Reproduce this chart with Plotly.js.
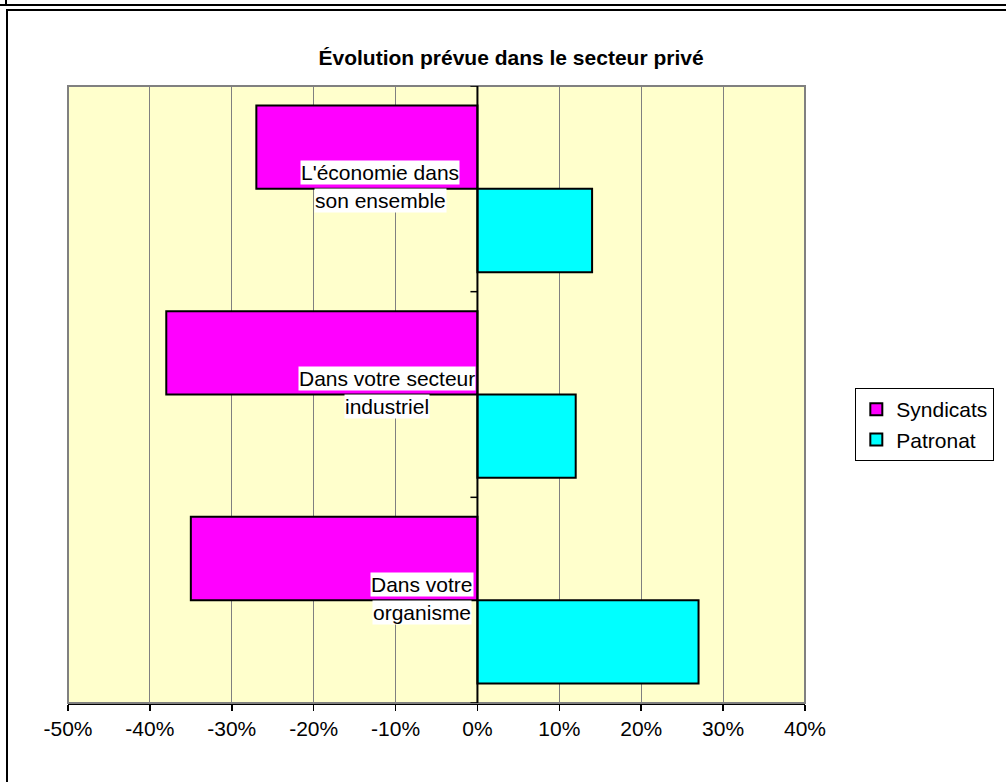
<!DOCTYPE html>
<html>
<head>
<meta charset="utf-8">
<script src="https://cdn.plot.ly/plotly-3.0.1.min.js"></script>
<style>
  html, body { margin: 0; padding: 0; background: #ffffff; }
  #wrap { position: relative; width: 1006px; height: 782px; overflow: hidden; }
  #chart { position: absolute; left: 0; top: 0; width: 1006px; height: 782px; }
  .frame { position: absolute; background: #000; pointer-events: none; }
</style>
</head>
<body>
<div id="wrap">
  <div id="chart"></div>
  <div class="frame" style="left:0; top:4px; width:1006px; height:2px;"></div>
  <div class="frame" style="left:5px; top:0; width:2px; height:5px;"></div>
  <div class="frame" style="left:6px; top:9px; width:1000px; height:2px;"></div>
  <div class="frame" style="left:6px; top:9px; width:2px; height:773px;"></div>
</div>
<script>
// ---- data ----
const categoryLines = [
  ["L'économie dans", "son ensemble"],
  ["Dans votre secteur", "industriel"],
  ["Dans votre", "organisme"]
];
const categories = categoryLines.map(l => l.join(" "));
const syndicats = [-27, -38, -35];
const patronat = [14, 12, 27];
const seriesNames = ["Syndicats", "Patronat"];
const xTicks = [-50, -40, -30, -20, -10, 0, 10, 20, 30, 40];
const xTickLabels = xTicks.map(v => v + "%");
const chartTitle = "Évolution prévue dans le secteur privé";

// ---- style ----
const FONT = "'Liberation Sans', Arial, sans-serif";
const FS = 21;
const labelGap = [18, 2, 5];

const idx = categories.map((_, i) => i);

const traces = [
  {
    type: "bar", orientation: "h", name: seriesNames[0],
    y: idx, x: syndicats,
    marker: { color: "#FF00FF", line: { color: "#000000", width: 2 } },
    hoverinfo: "x"
  },
  {
    type: "bar", orientation: "h", name: seriesNames[1],
    y: idx, x: patronat,
    marker: { color: "#00FFFF", line: { color: "#000000", width: 2 } },
    hoverinfo: "x"
  }
];

// measure text widths for centred label lines
const cv = document.createElement("canvas").getContext("2d");
cv.font = FS + "px 'Liberation Sans'";
const annotations = [];
categoryLines.forEach((lines, i) => {
  const w = Math.max(...lines.map(t => cv.measureText(t).width));
  const cx = -(labelGap[i] + w / 2);
  const n = lines.length;
  lines.forEach((t, j) => {
    annotations.push({
      x: 0, y: i, xref: "x", yref: "y",
      text: t, showarrow: false,
      xanchor: "center", yanchor: "middle",
      xshift: cx, yshift: 2 + ((n - 1) / 2 - j) * 28,
      font: { family: FONT, size: FS, color: "#000000" },
      bgcolor: "#FFFFFF", borderpad: 0
    });
  });
});

const shapes = [
  // plot-area frame (grey)
  { type: "rect", xref: "paper", yref: "paper", x0: 0, x1: 1, y0: 0, y1: 1,
    line: { color: "#808080", width: 2 }, layer: "above" },
  // category axis at zero
  { type: "line", xref: "x", yref: "paper", x0: 0, x1: 0, y0: 0, y1: 1,
    line: { color: "#000000", width: 2 }, layer: "above" }
];
// category-axis tick marks between categories
for (let k = 0; k <= categories.length; k++) {
  shapes.push({
    type: "line", xref: "x", yref: "y", xsizemode: "pixel", xanchor: 0,
    x0: -7, x1: 0, y0: k - 0.5, y1: k - 0.5,
    line: { color: "#000000", width: 1.5 }, layer: "above"
  });
}

const layout = {
  width: 1006, height: 782,
  margin: { l: 68, r: 191, t: 86, b: 79, pad: 0 },
  paper_bgcolor: "rgba(0,0,0,0)",
  plot_bgcolor: "#FFFFCC",
  font: { family: FONT, size: FS, color: "#000000" },
  title: {
    text: "<b>" + chartTitle + "</b>",
    font: { family: FONT, size: 21, color: "#000000" },
    x: 0.508, xref: "container", xanchor: "center",
    y: 1 - 58 / 782, yref: "container", yanchor: "middle"
  },
  barmode: "group",
  bargap: 0.19,
  bargroupgap: 0,
  xaxis: {
    range: [-50, 40],
    tickvals: xTicks, ticktext: xTickLabels,
    showgrid: true, gridcolor: "#808080", gridwidth: 1,
    zeroline: false,
    showline: true, linecolor: "#000000", linewidth: 2,
    ticks: "outside", ticklen: 6, tickcolor: "#000000", tickwidth: 1.5,
    tickfont: { family: FONT, size: FS, color: "#000000" },
    fixedrange: true
  },
  yaxis: {
    range: [categories.length - 0.5, -0.5],
    showticklabels: false, showgrid: false, zeroline: false,
    showline: false, ticks: "",
    fixedrange: true
  },
  showlegend: true,
  legend: {
    x: (866 - 68) / 747, xanchor: "left",
    y: (703 - 388) / 617, yanchor: "top",
    bgcolor: "#FFFFFF", bordercolor: "#000000", borderwidth: 1,
    font: { family: FONT, size: FS, color: "#000000" },
    traceorder: "normal"
  },
  annotations: annotations,
  shapes: shapes
};

Plotly.newPlot("chart", traces, layout, { staticPlot: true, displayModeBar: false });
</script>
</body>
</html>
